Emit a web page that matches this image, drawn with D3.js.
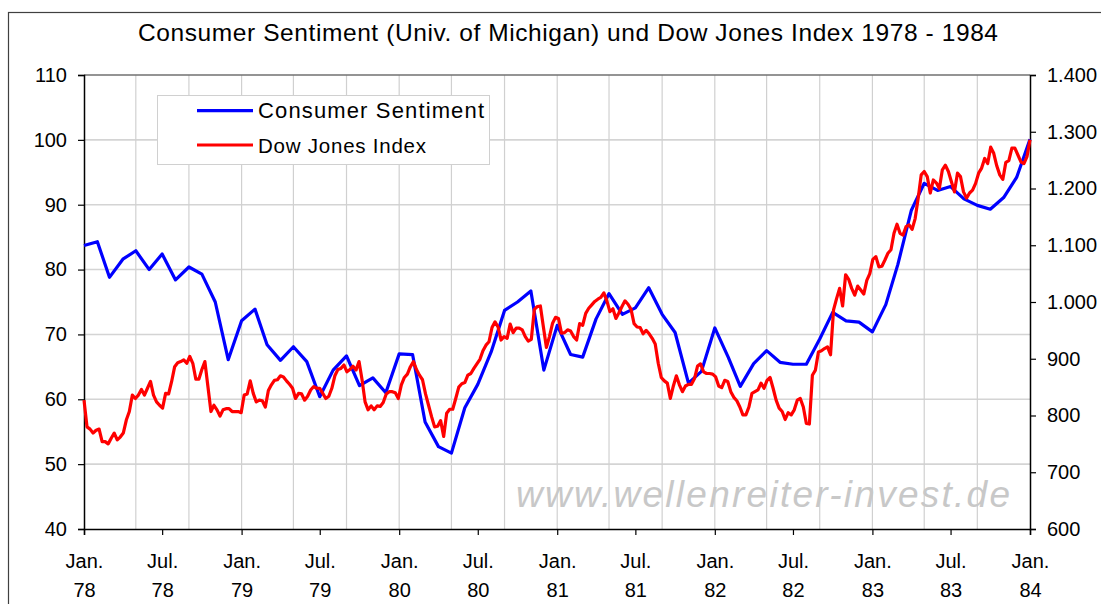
<!DOCTYPE html>
<html>
<head>
<meta charset="utf-8">
<script src="https://cdnjs.cloudflare.com/ajax/libs/d3/7.8.5/d3.min.js"></script>
<style>
  body { margin: 0; background: white; }
  svg text { font-family: "Liberation Sans", Arial, sans-serif; fill: #000; }
</style>
</head>
<body>
<div class="plot"></div>
<script>
// Consumer Sentiment (monthly, Jan 1978 .. Jan 1984)
var csValues = [
  83.7, 84.3, 78.8, 81.6, 82.9, 80.0, 82.4, 78.4, 80.4, 79.3, 75.0, 66.1,
  72.1, 73.9, 68.4, 66.0, 68.1, 65.8, 60.4, 64.5, 66.7, 62.1, 63.3, 61.0,
  67.0, 66.9, 56.5, 52.7, 51.7, 58.7, 62.3, 67.3, 73.7, 75.0, 76.7, 64.5,
  71.4, 66.9, 66.5, 72.4, 76.3, 73.1, 74.1, 77.2, 73.1, 70.3, 62.5, 64.3,
  71.0, 66.5, 62.0, 65.5, 67.5, 65.7, 65.4, 65.4, 69.3, 73.4, 72.1, 71.9,
  70.4, 74.6, 80.8, 89.1, 93.3, 92.2, 92.8, 90.9, 89.9, 89.3, 91.1, 94.2,
  100.1
];

// Dow Jones Index (weekly, from Jan 1978)
var djValues = [
  827, 780, 776, 769, 774, 776, 754, 754, 750, 760, 769, 757, 762, 769, 792, 807,
  836, 830, 836, 846, 836, 848, 860, 836, 824, 818, 813, 839, 838, 860, 886, 893,
  895, 898, 892, 904, 892, 864, 864, 881, 895, 851, 807, 818, 810, 799, 810, 812,
  812, 807, 807, 807, 805, 836, 838, 861, 839, 824, 827, 826, 815, 844, 854, 862,
  863, 870, 868, 861, 855, 848, 830, 839, 838, 827, 834, 845, 851, 848, 848, 839,
  830, 834, 848, 870, 881, 883, 889, 877, 881, 887, 880, 895, 863, 824, 810, 817,
  810, 817, 816, 823, 838, 842, 842, 840, 830, 854, 867, 873, 886, 895, 881, 871,
  863, 838, 818, 798, 780, 781, 791, 763, 804, 811, 811, 830, 850, 856, 858, 871,
  874, 883, 891, 899, 914, 924, 930, 955, 965, 956, 933, 939, 936, 961, 946, 954,
  954, 951, 939, 931, 934, 987, 992, 993, 956, 920, 939, 962, 973, 971, 945, 946,
  951, 949, 939, 933, 962, 959, 980, 989, 995, 1001, 1005, 1008, 1016, 1002, 983, 988,
  971, 981, 992, 1002, 996, 987, 962, 956, 955, 944, 950, 944, 936, 926, 892, 867,
  861, 857, 830, 852, 870, 854, 842, 852, 855, 855, 865, 887, 891, 877, 874, 874,
  873, 868, 852, 849, 862, 860, 842, 832, 826, 815, 801, 801, 815, 839, 842, 845,
  857, 848, 862, 867, 848, 827, 813, 807, 793, 805, 801, 810, 827, 830, 815, 786,
  785, 871, 880, 912, 914, 918, 921, 907, 986, 1006, 1024, 993, 1048, 1040, 1024, 1012,
  1028, 1021, 1014, 1038, 1050, 1075, 1080, 1062, 1063, 1074, 1086, 1092, 1121, 1137, 1121, 1118,
  1133, 1136, 1128, 1147, 1183, 1224, 1230, 1221, 1192, 1215, 1210, 1200, 1233, 1241, 1230, 1212,
  1194, 1227, 1221, 1194, 1183, 1192, 1197, 1209, 1227, 1236, 1253, 1244, 1273, 1262, 1240, 1224,
  1216, 1246, 1249, 1271, 1271, 1259, 1247, 1244, 1256, 1286
];

var leftTicks = [40, 50, 60, 70, 80, 90, 100, 110];
var rightTicks = [600, 700, 800, 900, 1000, 1100, 1200, 1300, 1400];
var monthNames = {0: "Jan.", 6: "Jul."};
var seriesNames = ["Consumer Sentiment", "Dow Jones Index"];
var title = "Consumer Sentiment (Univ. of Michigan) und Dow Jones Index 1978 - 1984";
var watermark = "www.wellenreiter-invest.de";

var startDate = new Date(1978, 0, 1),
    endDate = new Date(1984, 0, 1);

var csData = csValues.map((v, i) => ({date: new Date(1978, i, 1), value: v}));
var djData = djValues.map((v, i) => ({date: d3.timeDay.offset(startDate, 7 * i), value: v}));

// Plot area
var plot = {left: 84, right: 1030, top: 75, bottom: 529};

var canvas = d3.select(".plot")
    .append("svg")
    .attr("width", 1101)
    .attr("height", 604);

canvas.append("rect")
    .attr("width", "100%")
    .attr("height", "100%")
    .attr("fill", "white");

// Outer chart border
canvas.append("rect")
    .attr("x", 8.5)
    .attr("y", 12.5)
    .attr("width", 1200)
    .attr("height", 700)
    .attr("fill", "none")
    .attr("stroke", "#404040")
    .attr("stroke-width", 1.2);

// Scales
var xScale = d3.scaleTime().domain([startDate, endDate]).range([plot.left, plot.right]);
var yScale = d3.scaleLinear().domain([40, 110]).range([plot.bottom, plot.top]);
var y2Scale = d3.scaleLinear().domain([600, 1400]).range([plot.bottom, plot.top]);

var de = d3.formatLocale({decimal: ",", thousands: ".", grouping: [3], currency: ["", " €"]});

// Gridlines
canvas.append("g")
    .selectAll("line")
    .data(leftTicks.filter(d => d > 40 && d < 110))
    .enter().append("line")
    .attr("x1", plot.left)
    .attr("x2", plot.right)
    .attr("y1", d => yScale(d))
    .attr("y2", d => yScale(d))
    .attr("stroke", "#d4d4d4")
    .attr("stroke-width", 1.6);

canvas.append("g")
    .selectAll("line")
    .data(d3.timeMonth.every(4).range(d3.timeDay.offset(startDate, 1), endDate))
    .enter().append("line")
    .attr("x1", d => xScale(d))
    .attr("x2", d => xScale(d))
    .attr("y1", plot.top)
    .attr("y2", plot.bottom)
    .attr("stroke", "#d0d0d0")
    .attr("stroke-width", 1.2);

// Top border of the plot area
canvas.append("line")
    .attr("x1", plot.left)
    .attr("x2", plot.right)
    .attr("y1", plot.top)
    .attr("y2", plot.top)
    .attr("stroke", "#707070")
    .attr("stroke-width", 1.3);

// Watermark
canvas.append("text")
    .attr("x", 516)
    .attr("y", 507)
    .attr("textLength", 494)
    .attr("lengthAdjust", "spacing")
    .style("font-size", "37px")
    .style("font-style", "italic")
    .style("fill", "#c8c8c8")
    .text(watermark);

// Axes
var yAxis = d3.axisLeft(yScale).tickValues(leftTicks).tickSize(6).tickPadding(11);
var y2Axis = d3.axisRight(y2Scale).tickValues(rightTicks).tickSize(6).tickPadding(11)
    .tickFormat(de.format(","));
var xAxis = d3.axisBottom(xScale).ticks(d3.timeMonth.every(6)).tickSize(6).tickFormat("");

function styleAxis(g) {
    g.select(".domain").attr("stroke", "#000").attr("stroke-width", 1.5);
    g.selectAll(".tick line").attr("stroke", "#000").attr("stroke-width", 1.2);
    g.selectAll(".tick text").style("font-size", "20px").attr("fill", "#000");
}

canvas.append("g")
    .attr("transform", "translate(" + plot.left + ",0)")
    .call(yAxis)
    .call(styleAxis);

canvas.append("g")
    .attr("transform", "translate(" + plot.right + ",0)")
    .call(y2Axis)
    .call(styleAxis);

var xg = canvas.append("g")
    .attr("transform", "translate(0," + plot.bottom + ")")
    .call(xAxis)
    .call(styleAxis);

xg.selectAll(".tick text").each(function(d) {
    var t = d3.select(this).attr("y", 0).attr("dy", null);
    t.append("tspan").attr("x", 0).attr("y", 39).text(monthNames[d.getMonth()]);
    t.append("tspan").attr("x", 0).attr("y", 68).text(d3.timeFormat("%y")(d));
});

// Lines
var csLine = d3.line().x(d => xScale(d.date)).y(d => yScale(d.value));
var djLine = d3.line().x(d => xScale(d.date)).y(d => y2Scale(d.value));

canvas.append("path")
    .datum(csData)
    .attr("d", csLine)
    .attr("fill", "none")
    .attr("stroke", "#0000ff")
    .attr("stroke-width", 3.2)
    .attr("stroke-linejoin", "round");

canvas.append("path")
    .datum(djData)
    .attr("d", djLine)
    .attr("fill", "none")
    .attr("stroke", "#ff0000")
    .attr("stroke-width", 3.2)
    .attr("stroke-linejoin", "round");

// Legend
var legend = canvas.append("g");
legend.append("rect")
    .attr("x", 157.5)
    .attr("y", 95.5)
    .attr("width", 332)
    .attr("height", 69)
    .attr("fill", "white")
    .attr("stroke", "#d0d0d0");

var legendItems = legend.selectAll(".item")
    .data(seriesNames)
    .enter().append("g")
    .attr("class", "item")
    .attr("transform", (d, i) => "translate(0," + (110.7 + i * 34.3) + ")");

legendItems.append("line")
    .attr("x1", 197)
    .attr("x2", 253)
    .attr("stroke", (d, i) => i === 0 ? "#0000ff" : "#ff0000")
    .attr("stroke-width", 3.2);

legendItems.append("text")
    .attr("x", 258)
    .attr("y", 7.5)
    .attr("textLength", (d, i) => i === 0 ? 226 : 168)
    .attr("lengthAdjust", "spacing")
    .style("font-size", (d, i) => i === 0 ? "22px" : "20.5px")
    .text(d => d);

// Title
canvas.append("text")
    .attr("x", 568)
    .attr("y", 41)
    .attr("text-anchor", "middle")
    .attr("textLength", 860)
    .attr("lengthAdjust", "spacing")
    .style("font-size", "24.5px")
    .text(title);
</script>
</body>
</html>
